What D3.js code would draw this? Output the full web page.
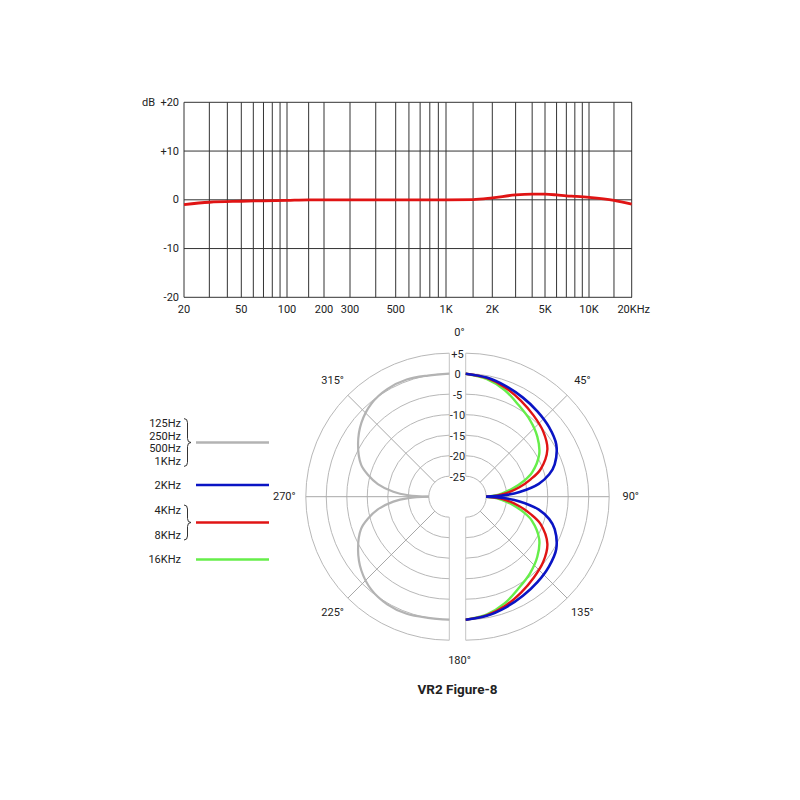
<!DOCTYPE html>
<html>
<head>
<meta charset="utf-8">
<script src="https://cdn.jsdelivr.net/npm/d3@7"></script>
<style>
  body { margin: 0; background: #fff; }
  text { font-family: Roboto, "Open Sans", sans-serif; fill: #222; }
</style>
</head>
<body>
<svg width="800" height="800"></svg>
<script>
// ---- frequency response data ----
const freqTicks = [20, 50, 100, 200, 300, 500, 1000, 2000, 5000, 10000, 20000];
const freqTickLabels = ["20", "50", "100", "200", "300", "500", "1K", "2K", "5K", "10K", "20KHz"];
const freqGrid = [20, 30, 40, 50, 60, 70, 80, 90, 100, 150, 200, 300, 400, 500, 600, 700, 800, 900,
                  1000, 1500, 2000, 3000, 4000, 5000, 6000, 7000, 8000, 9000, 10000, 15000, 20000];
const dbTicks = [20, 10, 0, -10, -20];
const dbTickLabels = ["+20", "+10", "0", "-10", "-20"];
const respFreq = [20, 30, 50, 70, 100, 150, 200, 500, 1000, 1500, 2000, 3000, 4000, 5000, 6000, 7000, 8000, 10000, 15000, 20000];
const respDb   = [-1.0, -0.5, -0.3, -0.2, -0.1, 0, 0, 0, 0, 0.05, 0.4, 1.0, 1.15, 1.15, 1.0, 0.8, 0.7, 0.5, -0.1, -0.9];

// ---- polar data (angle off axis, mirrored into both lobes) ----
const polarAngles = [0, 10, 20, 30, 40, 50, 60, 70, 75, 80, 85, 88, 90];
const lowDb   = [0, 0, 0.4, 0.3, -0.4, -2.0, -4.3, -7.1, -9.5, -12.3, -16.3, -20.0, -25]; // 125Hz..1KHz
const khz2Db  = [0, -0.5, -1.3, -2.1, -2.8, -3.5, -4.5, -6.9, -8.9, -11.9, -16.8, -20.8, -25];
const khz4Db  = [0, -0.6, -1.7, -3.0, -4.2, -5.3, -7.0, -10.6, -13.6, -16.7, -20.0, -22.4, -25];
const khz16Db = [0, -0.8, -2.3, -4.2, -5.6, -7.2, -9.3, -12.8, -15.4, -18.3, -21.2, -23.2, -25];
const ringDb = [5, 0, -5, -10, -15, -20, -25];
const ringLabels = ["+5", "0", "-5", "-10", "-15", "-20", "-25"];
const angleTicks = [0, 45, 90, 135, 180, 225, 270, 315];

const legendLabels = [["125Hz", "250Hz", "500Hz", "1KHz"], ["2KHz"], ["4KHz", "8KHz"], ["16KHz"]];
const legendColors = ["#b3b3b3", "#0a14c4", "#e01414", "#66ee4a"];

const svg = d3.select("svg");

// ================= frequency response =================
const fr = { left: 184, right: 632, top: 102.3, bottom: 297.3 };
// the printed axis is not a clean log scale, so calibrate it at each labelled tick
const x = d3.scaleLog()
    .domain(freqTicks)
    .range([184, 241.3, 287, 324, 350, 395.7, 446, 492.3, 545, 589, 631.7]);
const y = d3.scaleLinear().domain([-20, 20]).range([fr.bottom, fr.top]);

const grid = svg.append("g").attr("stroke", "#333").attr("stroke-width", 1);
grid.selectAll(".v").data(freqGrid).join("line")
    .attr("x1", d => x(d)).attr("x2", d => x(d))
    .attr("y1", fr.top).attr("y2", fr.bottom);
grid.selectAll(".h").data(dbTicks).join("line")
    .attr("x1", fr.left).attr("x2", fr.right)
    .attr("y1", d => y(d)).attr("y2", d => y(d));

svg.append("g").selectAll("text").data(dbTicks).join("text")
    .attr("x", fr.left - 5).attr("y", d => y(d))
    .attr("text-anchor", "end").attr("dominant-baseline", "central")
    .attr("font-size", 11)
    .text((d, i) => dbTickLabels[i]);
svg.append("text")
    .attr("x", fr.left - 29).attr("y", y(20))
    .attr("text-anchor", "end").attr("dominant-baseline", "central")
    .attr("font-size", 11).text("dB");

svg.append("g").selectAll("text").data(freqTicks).join("text")
    .attr("x", d => x(d) + (d === 20000 ? 2 : 0)).attr("y", fr.bottom + 12)
    .attr("text-anchor", "middle").attr("dominant-baseline", "central")
    .attr("font-size", 11)
    .text((d, i) => freqTickLabels[i]);

const respLine = d3.line()
    .x((d, i) => x(respFreq[i]))
    .y(d => y(d))
    .curve(d3.curveMonotoneX);
svg.append("path")
    .attr("d", respLine(respDb))
    .attr("fill", "none").attr("stroke", "#e01414").attr("stroke-width", 2.8);

// ================= polar plot =================
const cy = 496.7;
const leftCx = 449.3, rightCx = 465.7;   // the two halves are pulled apart by a label strip
const r = d3.scaleLinear().domain([-30, 5]).range([0, 143.5]);
const rad = a => a * Math.PI / 180;

function drawHalf(cx, side) {
  const g = svg.append("g").attr("transform", `translate(${cx},${cy})`);
  // rings
  ringDb.forEach(db => {
    const p = d3.path();
    if (side > 0) p.arc(0, 0, r(db), -Math.PI / 2, Math.PI / 2);
    else p.arc(0, 0, r(db), Math.PI / 2, 3 * Math.PI / 2);
    g.append("path").attr("d", p.toString())
        .attr("fill", "none").attr("stroke", "#b8b8b8").attr("stroke-width", 1);
  });
  // spokes
  const spokes = [0, 45, 90, 135, 180];
  g.selectAll(".spoke").data(spokes).join("line")
      .attr("x1", d => side * r(-25) * Math.sin(rad(d)))
      .attr("y1", d => -r(-25) * Math.cos(rad(d)))
      .attr("x2", d => side * r(5) * Math.sin(rad(d)))
      .attr("y2", d => -r(5) * Math.cos(rad(d)))
      .attr("stroke", d => (d === 0 || d === 180) ? "#c4c4c4" : "#a8a8a8")
      .attr("stroke-width", 1);
  return g;
}

const gRight = drawHalf(rightCx, 1);
const gLeft = drawHalf(leftCx, -1);

function drawLobes(g, side, values, color, width) {
  const pts = polarAngles.map((a, i) => [a, values[i]]);
  const top = d3.lineRadial()
      .angle(d => side * rad(d[0]))
      .radius(d => r(d[1]))
      .curve(d3.curveCatmullRom);
  const bottom = d3.lineRadial()
      .angle(d => side * rad(180 - d[0]))
      .radius(d => r(d[1]))
      .curve(d3.curveCatmullRom);
  [top, bottom].forEach(gen => {
    g.append("path").attr("d", gen(pts))
        .attr("fill", "none").attr("stroke", color)
        .attr("stroke-width", width).attr("stroke-linejoin", "round");
  });
}

drawLobes(gLeft, -1, lowDb, legendColors[0], 2.2);
drawLobes(gRight, 1, khz16Db, legendColors[3], 2.4);
drawLobes(gRight, 1, khz4Db, legendColors[2], 2.4);
drawLobes(gRight, 1, khz2Db, legendColors[1], 2.6);

// dB labels in the centre strip
const midX = (leftCx + rightCx) / 2;
svg.append("g").selectAll("text").data(ringDb).join("text")
    .attr("x", midX).attr("y", d => cy - r(d) + 1)
    .attr("text-anchor", "middle").attr("dominant-baseline", "central")
    .attr("font-size", 11)
    .text((d, i) => ringLabels[i]);

// angle labels
svg.append("g").selectAll("text").data(angleTicks).join("text")
    .attr("x", d => {
      if (d === 0 || d === 180) return midX + 2;
      const cx = d < 180 ? rightCx : leftCx;
      return cx + 165 * Math.sin(rad(d));
    })
    .attr("y", d => cy - 164 * Math.cos(rad(d)))
    .attr("text-anchor", "middle").attr("dominant-baseline", "central")
    .attr("font-size", 11)
    .text(d => d + "°");

svg.append("text")
    .attr("x", midX).attr("y", 689)
    .attr("text-anchor", "middle").attr("dominant-baseline", "central")
    .attr("font-size", 13.5).attr("font-weight", "bold")
    .text("VR2 Figure-8");

// ================= legend =================
const legendLineY = [442.5, 485, 522.5, 559.5];
const legendStep = [12.6, 0, 25, 0];
const legendTextRight = 181, legendX1 = 196, legendX2 = 269;

function brace(x0, y0, y1) {
  const w = 3.5, k = 4, ym = (y0 + y1) / 2;
  return `M${x0},${y0} Q${x0 + w},${y0} ${x0 + w},${y0 + k} L${x0 + w},${ym - k} ` +
         `Q${x0 + w},${ym} ${x0 + 2 * w},${ym} Q${x0 + w},${ym} ${x0 + w},${ym + k} ` +
         `L${x0 + w},${y1 - k} Q${x0 + w},${y1} ${x0},${y1}`;
}

legendLabels.forEach((labels, gi) => {
  const yc = legendLineY[gi];
  const n = labels.length;
  const y0 = yc - legendStep[gi] * (n - 1) / 2;
  labels.forEach((t, i) => {
    svg.append("text")
        .attr("x", legendTextRight).attr("y", y0 + i * legendStep[gi])
        .attr("text-anchor", "end").attr("dominant-baseline", "central")
        .attr("font-size", 11).text(t);
  });
  if (n > 1) {
    svg.append("path")
        .attr("d", brace(184, y0 - 5, y0 + legendStep[gi] * (n - 1) + 5))
        .attr("fill", "none").attr("stroke", "#333").attr("stroke-width", 1);
  }
  svg.append("line")
      .attr("x1", legendX1).attr("x2", legendX2)
      .attr("y1", yc).attr("y2", yc)
      .attr("stroke", legendColors[gi]).attr("stroke-width", 2.4);
});
</script>
</body>
</html>
